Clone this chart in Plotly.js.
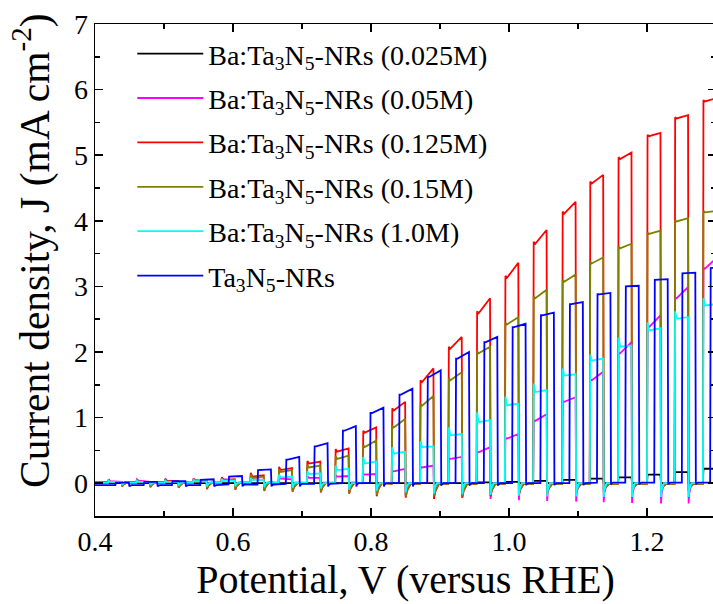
<!DOCTYPE html>
<html>
<head>
<meta charset="utf-8">
<script src="https://cdn.plot.ly/plotly-3.0.1.min.js"></script>
<style>
html,body{margin:0;padding:0;overflow:hidden;background:#fff;}
#chart{width:720px;height:604px;}
</style>
</head>
<body>
<div id="chart"></div>
<script>
// ---- light chopping (V vs RHE) ----
const lightOn  = [0.419,0.460,0.501,0.542,0.583,0.625,0.666,0.707,0.748,0.788,0.830,0.871,0.912,0.953,0.994,1.035,1.077,1.117,1.158,1.200,1.240,1.281];
const lightOff = [0.4385,0.4795,0.5205,0.5615,0.6025,0.6445,0.6855,0.7265,0.7675,0.8075,0.8495,0.8905,0.9315,0.9725,1.0135,1.0545,1.0965,1.1365,1.1775,1.2195,1.2595,1.3005];
const blueOn   = [0.4295,0.4705,0.5115,0.5525,0.5935,0.6355,0.6765,0.7175,0.7585,0.7985,0.8405,0.8815,0.9225,0.9635,1.0045,1.0455,1.0875,1.1275,1.1685,1.2105,1.2505,1.2915];
const blueOff  = [0.449,0.490,0.531,0.572,0.613,0.655,0.696,0.737,0.778,0.818,0.860,0.901,0.942,0.983,1.024,1.065,1.107,1.147,1.188,1.230,1.270,1.311];

// ---- Ba:Ta3N5-NRs (0.025M) black ----
const blkTop  = [0,0,0,0,0,0,0,0,0,0,0,0.005,0.008,0.012,0.02,0.035,0.05,0.07,0.09,0.13,0.17,0.22];
const blkDark = [0,0,0,0,0,0,0,0,0,0,0,0,0,0,0,0,0,0,0,0,0,0];

// ---- Ba:Ta3N5-NRs (0.05M) magenta ----
const magPeak = [0.06,0.06,0.07,0.07,0.08,0.09,0.10,0.11,0.12,0.14,0.19,0.25,0.38,0.48,0.69,0.96,1.25,1.58,1.99,2.39,2.83,3.28];
const magS    = [0.03,0.04,0.04,0.05,0.06,0.06,0.07,0.08,0.10,0.13,0.18,0.24,0.37,0.47,0.68,0.95,1.24,1.57,1.98,2.38,2.82,3.27];
const magE    = [0.02,0.02,0.03,0.03,0.04,0.05,0.06,0.08,0.11,0.14,0.22,0.27,0.40,0.55,0.75,1.05,1.31,1.70,2.15,2.56,2.99,3.43];
const magDip  = [-0.03,-0.04,-0.05,-0.05,-0.06,-0.07,-0.08,-0.10,-0.12,-0.15,-0.18,-0.20,-0.22,-0.24,-0.26,-0.27,-0.28,-0.29,-0.30,-0.31,-0.31,-0.31];
const magDark = [0.02,0.02,0.02,0.01,0.01,0.01,0.01,0.01,0.01,0.0,0.0,0.0,0.0,0.0,0.0,0.0,0.0,0.0,0.0,0.0,0.0,0.0];

// ---- Ba:Ta3N5-NRs (0.125M) red ----
const redPeak = [0.05,0.05,0.06,0.07,0.09,0.16,0.25,0.34,0.52,0.80,1.14,1.57,2.08,2.62,3.16,3.68,4.14,4.60,4.97,5.31,5.58,5.84];
const redS    = [0.02,0.02,0.03,0.03,0.05,0.10,0.20,0.30,0.48,0.77,1.11,1.54,2.05,2.59,3.13,3.65,4.11,4.57,4.94,5.29,5.56,5.82];
const redE    = [0.02,0.02,0.03,0.04,0.06,0.12,0.23,0.33,0.53,0.85,1.24,1.75,2.23,2.82,3.36,3.86,4.29,4.70,5.04,5.34,5.61,5.87];
const redDip  = [-0.05,-0.06,-0.07,-0.09,-0.10,-0.12,-0.13,-0.14,-0.16,-0.20,-0.22,-0.24,-0.22,-0.20,-0.18,-0.16,-0.15,-0.14,-0.13,-0.12,-0.12,-0.12];
const redDark = [0.01,0.01,0.01,0.01,0.01,0.01,0.0,0.0,0.0,0.0,-0.01,-0.01,-0.01,-0.01,-0.01,-0.01,-0.01,-0.01,-0.01,-0.01,-0.01,-0.01];

// ---- Ba:Ta3N5-NRs (0.15M) olive ----
const olvPeak = [0.04,0.05,0.05,0.06,0.07,0.13,0.21,0.28,0.41,0.58,0.88,1.21,1.60,2.01,2.45,2.85,3.10,3.38,3.61,3.82,4.01,4.15];
const olvS    = [0.02,0.02,0.02,0.03,0.04,0.08,0.17,0.24,0.37,0.55,0.85,1.18,1.57,1.98,2.42,2.82,3.07,3.35,3.58,3.80,3.99,4.13];
const olvE    = [0.02,0.02,0.03,0.03,0.05,0.10,0.20,0.27,0.42,0.65,0.98,1.33,1.69,2.08,2.53,2.95,3.18,3.44,3.65,3.85,4.04,4.15];
const olvDip  = [-0.05,-0.06,-0.07,-0.08,-0.09,-0.11,-0.12,-0.13,-0.15,-0.18,-0.20,-0.20,-0.20,-0.18,-0.16,-0.15,-0.14,-0.13,-0.12,-0.12,-0.11,-0.11];
const olvDark = [0.01,0.01,0.01,0.01,0.01,0.01,0.0,0.0,0.0,0.0,-0.01,-0.01,-0.01,-0.01,-0.01,-0.01,-0.01,-0.01,-0.01,-0.01,-0.01,-0.01];

// ---- Ba:Ta3N5-NRs (1.0M) cyan ----
const cyaPeak = [0.04,0.04,0.04,0.05,0.06,0.08,0.13,0.18,0.27,0.40,0.55,0.64,0.85,1.08,1.32,1.52,1.75,1.96,2.22,2.45,2.62,2.82];
const cyaS    = [0.02,0.02,0.02,0.03,0.04,0.05,0.09,0.14,0.20,0.30,0.45,0.55,0.73,0.93,1.19,1.39,1.64,1.87,2.08,2.33,2.51,2.71];
const cyaE    = [0.02,0.02,0.02,0.03,0.04,0.05,0.10,0.15,0.22,0.33,0.48,0.56,0.75,0.96,1.21,1.42,1.66,1.90,2.10,2.36,2.53,2.73];
const cyaDip  = [-0.03,-0.03,-0.04,-0.05,-0.05,-0.06,-0.07,-0.08,-0.10,-0.12,-0.14,-0.16,-0.17,-0.18,-0.19,-0.20,-0.20,-0.21,-0.21,-0.21,-0.21,-0.21];
const cyaDark = [0.01,0.01,0.01,0.01,0.01,0.01,0.01,0.0,0.0,0.0,0.0,0.0,0.0,0.0,0.0,0.0,0.0,0.0,0.0,0.0,0.0,0.0];

// ---- Ta3N5-NRs blue ----
const bluS    = [0.01,0.02,0.03,0.05,0.10,0.20,0.36,0.56,0.80,1.07,1.35,1.62,1.90,2.15,2.38,2.56,2.73,2.88,3.00,3.10,3.20,3.28];
const bluE    = [0.01,0.02,0.03,0.06,0.11,0.21,0.40,0.61,0.87,1.15,1.44,1.72,2.00,2.23,2.43,2.60,2.76,2.90,3.01,3.11,3.21,3.29];
const bluDip  = [-0.05,-0.05,-0.05,-0.05,-0.05,-0.05,-0.05,-0.05,-0.05,-0.05,-0.05,-0.04,-0.04,-0.04,-0.03,-0.03,-0.03,-0.02,-0.02,-0.02,-0.02,-0.02];
const bluDark = [-0.03,-0.03,-0.03,-0.03,-0.02,-0.02,-0.01,-0.01,0.0,0.0,0.0,0.0,0.0,0.0,0.0,0.0,0.0,0.01,0.01,0.01,0.01,0.01];

const names = [
  'Ba:Ta<sub>3</sub>N<sub>5</sub>-NRs (0.025M)',
  'Ba:Ta<sub>3</sub>N<sub>5</sub>-NRs (0.05M)',
  'Ba:Ta<sub>3</sub>N<sub>5</sub>-NRs (0.125M)',
  'Ba:Ta<sub>3</sub>N<sub>5</sub>-NRs (0.15M)',
  'Ba:Ta<sub>3</sub>N<sub>5</sub>-NRs (1.0M)',
  'Ta<sub>3</sub>N<sub>5</sub>-NRs'
];
const colors = ['#000000','#ff00ff','#ff0000','#808000','#00ffff','#0000ff'];
const xTickVals = [0.4, 0.6, 0.8, 1.0, 1.2];
const xTickText = ['0.4','0.6','0.8','1.0','1.2'];
const yTickVals = [0,1,2,3,4,5,6,7];

// build a chopped-light trace from per-pulse values
function chop(on, off, peak, s, e, dip, dark, rec) {
  const x = [0.4], y = [dark[0]];
  for (let i = 0; i < on.length; i++) {
    x.push(on[i]);            y.push(dark[i]);
    x.push(on[i] + 0.0008);   y.push(peak[i]);
    x.push(on[i] + 0.003);    y.push(s[i]);
    x.push(off[i]);           y.push(e[i]);
    x.push(off[i] + 0.0008);  y.push(dip[i]);
    x.push(off[i] + rec*0.35); y.push((dip[i] + dark[i]) / 2);
    x.push(off[i] + rec);     y.push(dark[i]);
  }
  return {x, y};
}

const series = [
  chop(lightOn, lightOff, blkTop, blkTop, blkTop, blkDark, blkDark, 0.004),
  chop(lightOn, lightOff, magPeak, magS, magE, magDip, magDark, 0.005),
  chop(lightOn, lightOff, redPeak, redS, redE, redDip, redDark, 0.008),
  chop(lightOn, lightOff, olvPeak, olvS, olvE, olvDip, olvDark, 0.008),
  chop(lightOn, lightOff, cyaPeak, cyaS, cyaE, cyaDip, cyaDark, 0.005),
  chop(blueOn, blueOff, bluS, bluS, bluE, bluDip, bluDark, 0.004)
];

const traces = series.map((d, i) => ({
  x: d.x, y: d.y, type: 'scatter', mode: 'lines',
  name: names[i], legendgroup: 'g' + i,
  line: {color: colors[i], width: 1.8},
  hoverinfo: 'skip'
}));

const FONT = 'Times New Roman, Liberation Serif, serif';
const layout = {
  width: 720, height: 604,
  margin: {l: 95, r: 4, t: 24, b: 88},
  paper_bgcolor: '#fff', plot_bgcolor: '#fff',
  font: {family: FONT, color: '#000'},
  showlegend: true,
  legend: {
    x: 0.06, y: 0.99, xanchor: 'left', yanchor: 'top',
    bgcolor: 'rgba(0,0,0,0)', borderwidth: 0,
    font: {family: FONT, size: 28, color: '#000'},
    tracegroupgap: 5, itemwidth: 66
  },
  xaxis: {
    range: [0.4, 1.3], showgrid: false, zeroline: false,
    showline: true, linecolor: '#000', linewidth: 1.5, mirror: 'ticks',
    ticks: 'inside', ticklen: 8, tickwidth: 1.5, tickcolor: '#000',
    tickvals: xTickVals, ticktext: xTickText,
    minor: {tickvals: [0.5, 0.7, 0.9, 1.1], ticks: 'inside', ticklen: 5, tickwidth: 1.5, tickcolor: '#000'},
    tickfont: {family: FONT, size: 28, color: '#000'},
    title: {text: 'Potential, V (versus RHE)', font: {family: FONT, size: 40, color: '#000'}, standoff: 9}
  },
  yaxis: {
    range: [-0.5, 7], showgrid: false, zeroline: false,
    showline: true, linecolor: '#000', linewidth: 1.5, mirror: 'ticks',
    ticks: 'inside', ticklen: 8, tickwidth: 1.5, tickcolor: '#000',
    tickvals: yTickVals,
    minor: {tickvals: [-0.5,0.5,1.5,2.5,3.5,4.5,5.5,6.5], ticks: 'inside', ticklen: 5, tickwidth: 1.5, tickcolor: '#000'},
    tickfont: {family: FONT, size: 28, color: '#000'}
  },
  annotations: [{
    text: 'Current density, J (mA cm<sup>-2</sup>)',
    xref: 'paper', yref: 'paper', x: -0.102, y: 0.54,
    xanchor: 'center', yanchor: 'middle', textangle: -90, showarrow: false,
    font: {family: FONT, size: 41.5, color: '#000'}
  }]
};

Plotly.newPlot('chart', traces, layout, {staticPlot: true, displayModeBar: false});
</script>
</body>
</html>
